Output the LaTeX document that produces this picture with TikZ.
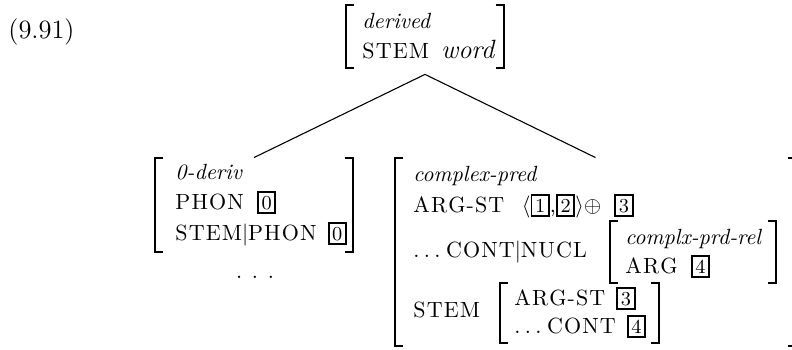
\documentclass[tikz,border=0pt]{standalone}
\usepackage{tikz}
\usetikzlibrary{fit}
\makeatletter
\newcommand{\attr}[1]{\@tfor\@ch:=#1\do{\@ch\kern0.05em}\unkern}
\makeatother
\newcommand{\boxtag}[1]{{\setlength{\fboxsep}{1.2pt}\setlength{\fboxrule}{0.9pt}\fbox{\small #1}}}
\newcommand{\spdots}{.\hspace{0.2em}.\hspace{0.2em}.\hspace{0.25em}}

\begin{document}
\begin{tikzpicture}[x=0.4545pt, y=-0.4545pt, every node/.style={inner sep=0pt},
  row/.style={anchor=base west},
  brk/.style={line width=0.9pt},
  branch/.style={line width=0.5pt}]
  \useasboundingbox (0,0) rectangle (792,349);
  \node[row, font=\large] (eqno) at (8,38) {(9.91)};

  \node[fit={(346,5) (504,68)}] (top) {};
  \node[row] (toptype) at (362,28) {\textit{derived}};
  \node[row] (topstem) at (362,58) {\attr{STEM}\hspace{0.55em}{\large\textit{word}}};

  \node[fit={(155,158) (353,252)}] (left) {};
  \node[row] (ltype) at (175,179) {\textit{0-deriv}};
  \node[row] (lphon) at (175,209) {\attr{PHON}\hspace{0.6em}\boxtag{0}};
  \node[row] (lstem) at (175,240) {\attr{STEM}$|$\attr{PHON}\hspace{0.5em}\boxtag{0}};
  \node[anchor=base] (ldots) at (255,278) {. . .};

  \node[fit={(395,158) (796,346)}] (right) {};
  \node[row] (rtype) at (413,181) {\textit{complex-pred}};
  \node[row] (rargst) at (413,212) {\attr{ARG-ST}\hspace{0.8em}$\langle$\boxtag{1},\boxtag{2}$\rangle\oplus$\hspace{0.6em}\boxtag{3}};
  \node[row] (rcont) at (413,257) {\spdots\attr{CONT}$|$\attr{NUCL}};
  \node[fit={(610,221) (776,283)}] (rel) {};
  \node[row] (reltype) at (625,244) {\textit{complx-prd-rel}};
  \node[row] (relarg) at (625,273) {\attr{ARG}\hspace{0.6em}\boxtag{4}};
  \node[row] (rstem) at (413,317) {\attr{STEM}};
  \node[fit={(500,283) (659,343)}] (stemval) {};
  \node[row] (svargst) at (514,305) {\attr{ARG-ST}\hspace{0.5em}\boxtag{3}};
  \node[row] (svcont) at (514,333) {\spdots\attr{CONT}\hspace{0.5em}\boxtag{4}};

  \draw[branch] ([yshift=-2.7pt]top.south) -- (left.north);
  \draw[branch] ([yshift=-2.7pt]top.south) -- (right.north);

  \draw[brk] ([xshift=4pt]top.north west) -| (top.south west) -- ++(4pt,0);
  \draw[brk] ([xshift=-4pt]top.north east) -| (top.south east) -- ++(-4pt,0);
  \draw[brk] ([xshift=4pt]left.north west) -| (left.south west) -- ++(4pt,0);
  \draw[brk] ([xshift=-4pt]left.north east) -| (left.south east) -- ++(-4pt,0);
  \draw[brk] ([xshift=4pt]right.north west) -| (right.south west) -- ++(4pt,0);
  \draw[brk] ([xshift=-4pt]right.north east) -| (right.south east) -- ++(-4pt,0);
  \draw[brk] ([xshift=4pt]rel.north west) -| (rel.south west) -- ++(4pt,0);
  \draw[brk] ([xshift=-4pt]rel.north east) -| (rel.south east) -- ++(-4pt,0);
  \draw[brk] ([xshift=4pt]stemval.north west) -| (stemval.south west) -- ++(4pt,0);
  \draw[brk] ([xshift=-4pt]stemval.north east) -| (stemval.south east) -- ++(-4pt,0);
\end{tikzpicture}
\end{document}
